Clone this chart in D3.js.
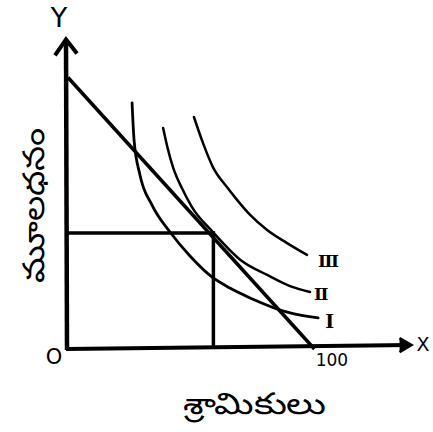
<!DOCTYPE html>
<html><head><meta charset="utf-8">
<script src="https://cdn.jsdelivr.net/npm/d3@7"></script>
<style>
html,body{margin:0;padding:0;background:#fff;}
svg{display:block;}
</style></head>
<body>
<script>
// ---- data (economic units: labour on x, capital on y) ----
const isoquantNames = ["I", "II", "III"];
const isoquantI   = [[26,99.7],[26.8,84.7],[29.2,70.5],[34.1,58.3],[41.4,47.4],[49.5,37.7],[58.4,29.2],[65.7,24.7],[73.9,20.7],[90.1,14.6],[101.5,12.6]];
const isoquantII  = [[38.6,89.5],[40.4,81.5],[42.6,73.7],[46.2,65.2],[50.3,57.5],[58.8,47.4],[71,35.3],[80.8,30],[90.1,25.5],[98.2,23.1]];
const isoquantIII = [[51.1,94],[54.8,83.4],[58.8,73.7],[64.5,65.6],[68.6,60.4],[73.9,54.3],[80.8,48.2],[88.9,42.9],[97,38.1]];
const isocost = [[0,110],[100,0]];
const equilibrium = [59,47];
const xTickValues = [100];
const xAxisTitle = "శ్రామికులు";
const yAxisTitle = "మూలధనం";
const axisNames = ["X", "Y"];
const originLabel = "O";

const W = 433, H = 432;
const svg = d3.select("body").append("svg").attr("width", W).attr("height", H);

const x = d3.scaleLinear().domain([0, 140]).range([68, 413]);
const y = d3.scaleLinear().domain([0, 126]).range([349, 38]);

const ink = "#000";
const line = d3.line().x(d => x(d[0])).y(d => y(d[1]));
const curve = d3.line().x(d => x(d[0])).y(d => y(d[1])).curve(d3.curveMonotoneX);

// axes lines (thick)
svg.append("line").attr("x1", x(0) - 1).attr("y1", y(0) + 1).attr("x2", x(0) - 2).attr("y2", y(125))
  .attr("stroke", ink).attr("stroke-width", 4.5);
svg.append("line").attr("x1", x(0) - 2).attr("y1", y(0)).attr("x2", x(139)).attr("y2", y(1.6))
  .attr("stroke", ink).attr("stroke-width", 4);
// arrowheads
svg.append("path").attr("d", `M${x(0)-13},${y(125)+15} L${x(0)-2},${y(125)-1} L${x(0)+9},${y(125)+13}`)
  .attr("fill", "none").attr("stroke", ink).attr("stroke-width", 4).attr("stroke-linejoin", "miter");
svg.append("path").attr("d", `M${x(139)-11},${y(1.6)-7} L${x(139)+1},${y(1.6)} L${x(139)-11},${y(1.6)+7}`)
  .attr("fill", ink).attr("stroke", ink).attr("stroke-width", 2.5);

// x axis tick label via d3 axis
const xAxis = d3.axisBottom(x).tickValues(xTickValues).tickSize(0).tickPadding(5);
const gx = svg.append("g").attr("transform", `translate(17,${y(0)})`).call(xAxis);
gx.select(".domain").remove();
gx.selectAll("text").attr("font-family", "DejaVu Sans").attr("font-size", 17).attr("fill", ink);

// isocost line
svg.append("path").datum(isocost).attr("d", line)
  .attr("fill", "none").attr("stroke", ink).attr("stroke-width", 3.5);

// equilibrium rectangle lines
svg.append("path").attr("d", `M${x(0)},${y(equilibrium[1])} L${x(equilibrium[0])},${y(equilibrium[1])} L${x(equilibrium[0])},${y(0)}`)
  .attr("fill", "none").attr("stroke", ink).attr("stroke-width", 3.5);

// isoquants
const curves = [isoquantI, isoquantII, isoquantIII];
const widths = [2.8, 2.5, 2.5];
curves.forEach((c, i) => {
  svg.append("path").datum(c).attr("d", curve)
    .attr("fill", "none").attr("stroke", ink).attr("stroke-width", widths[i]).attr("stroke-linecap", "round");
});
// isoquant labels
const labelOffsets = [[7, 10], [4, 8], [11, 12]];
const labelSizes = [19, 17, 17];
curves.forEach((c, i) => {
  const p = c[c.length - 1];
  svg.append("text").attr("x", x(p[0]) + labelOffsets[i][0]).attr("y", y(p[1]) + labelOffsets[i][1])
    .attr("font-family", "DejaVu Serif").attr("font-weight", "bold").attr("font-size", labelSizes[i])
    .attr("letter-spacing", -1.5).attr("fill", ink).text(isoquantNames[i]);
});

// axis names
svg.append("text").attr("x", 59).attr("y", 27).attr("text-anchor", "middle")
  .attr("font-family", "DejaVu Sans").attr("font-size", 27).attr("fill", ink).text(axisNames[1]);
svg.append("text").attr("x", 423).attr("y", 351).attr("text-anchor", "middle")
  .attr("font-family", "DejaVu Sans").attr("font-size", 19).attr("fill", ink).text(axisNames[0]);
svg.append("text").attr("x", 54).attr("y", 364).attr("text-anchor", "middle")
  .attr("font-family", "DejaVu Sans").attr("font-size", 21).attr("fill", ink).text(originLabel);

// axis titles
svg.append("text").attr("x", 183).attr("y", 414)
  .attr("textLength", 142).attr("lengthAdjust", "spacingAndGlyphs")
  .attr("font-family", "Noto Sans, DejaVu Sans, sans-serif").attr("font-size", 30).attr("fill", ink).text(xAxisTitle);
svg.append("text").attr("transform", "translate(44,283) rotate(-90)")
  .attr("textLength", 155).attr("lengthAdjust", "spacingAndGlyphs")
  .attr("font-family", "Noto Sans, DejaVu Sans, sans-serif").attr("font-size", 30).attr("fill", ink).text(yAxisTitle);
</script>
</body></html>
